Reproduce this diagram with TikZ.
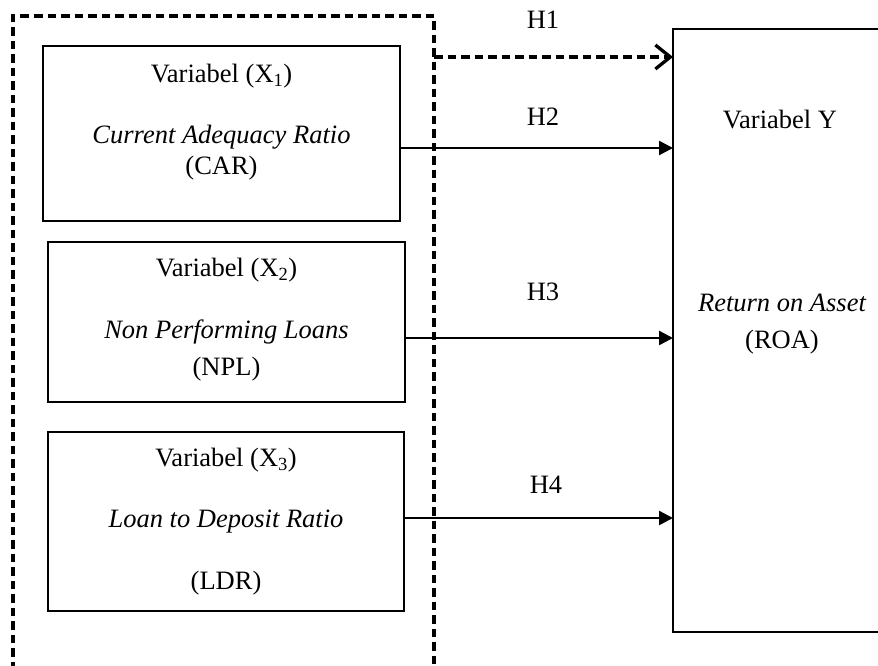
\documentclass[tikz,border=0pt]{standalone}
\usepackage{fontspec}
\setmainfont{Liberation Serif}
\usetikzlibrary{arrows.meta}
\begin{document}
\begin{tikzpicture}[x=1pt,y=-1pt,
  txt/.style={inner sep=0pt,font=\fontsize{26.5}{31}\selectfont},
  vbox/.style={draw,line width=2pt,inner sep=0pt},
  dashline/.style={line width=3.3pt,dash pattern=on 8.5pt off 5pt},
  arr/.style={line width=2.4pt,-{Triangle[length=14pt,width=14pt]}},
  darr/.style={dashline,-{Straight Barb[length=15pt,width=24pt,line width=3.3pt]}}]
\useasboundingbox (0,0) rectangle (878,665);
% outer dashed group
\coordinate (gbl) at (13,670);
\coordinate (gtl) at (13,16);
\coordinate (gtr) at (434,16);
\coordinate (gbr) at (434,670);
\draw[dashline] (gbl) -- (gtl) -- (gtr) -- (gbr);
% boxes
\node[vbox,minimum width=357pt,minimum height=175pt] (b1) at (221.5,133.5) {};
\node[vbox,minimum width=357pt,minimum height=160pt] (b2) at (226.5,322) {};
\node[vbox,minimum width=356pt,minimum height=179pt] (b3) at (226,521.5) {};
% Y box (open on the right)
\coordinate (ytr) at (890,29);
\coordinate (ytl) at (673,29);
\coordinate (ybl) at (673,632);
\coordinate (ybr) at (890,632);
\draw[line width=2pt] (ytr) -- (ytl) -- (ybl) -- (ybr);
% texts in boxes
\node[txt] (t1a) at (221.5,76) {Variabel (X\textsubscript{1})};
\node[txt] (t1b) at (221.5,137) {\itshape Current Adequacy Ratio};
\node[txt] (t1c) at (221.5,168) {(CAR)};
\node[txt] (t2a) at (226.5,270) {Variabel (X\textsubscript{2})};
\node[txt] (t2b) at (226.5,332) {\itshape Non Performing Loans};
\node[txt] (t2c) at (226.5,369) {(NPL)};
\node[txt] (t3a) at (226,460) {Variabel (X\textsubscript{3})};
\node[txt] (t3b) at (226,522) {\itshape Loan to Deposit Ratio};
\node[txt] (t3c) at (226,583) {(LDR)};
\node[txt] (ya) at (780,120) {Variabel Y};
\node[txt] (yb) at (782,303) {\itshape Return on Asset};
\node[txt] (yc) at (782,342) {(ROA)};
% hypothesis labels
\node[txt] (H1) at (543,20) {H1};
\node[txt] (H2) at (543,117) {H2};
\node[txt] (H3) at (543,292) {H3};
\node[txt] (H4) at (546,485) {H4};
% arrows
\coordinate (r1) at (0,57);
\coordinate (r2) at (0,148);
\coordinate (r3) at (0,338);
\coordinate (r4) at (0,518);
\draw[darr] (gtr |- r1) -- (ytl |- r1);
\draw[arr] (b1.east |- r2) -- (ytl |- r2);
\draw[arr] (b2.east |- r3) -- (ytl |- r3);
\draw[arr] (b3.east |- r4) -- (ytl |- r4);
\end{tikzpicture}
\end{document}
